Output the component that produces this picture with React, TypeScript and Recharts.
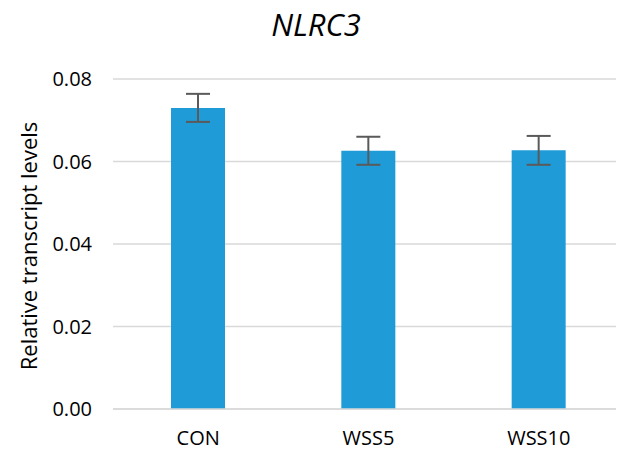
import React from 'react';
import { BarChart, Bar, XAxis, YAxis, CartesianGrid, ErrorBar } from 'recharts';

const groups = ['CON', 'WSS5', 'WSS10'];
const levels = [0.073, 0.0626, 0.0627];
const errors = [0.0034, 0.0034, 0.0035];
const yTicks = [0, 0.02, 0.04, 0.06, 0.08];

const data = groups.map((name, i) => ({ name, value: levels[i], err: errors[i] }));

const font = '"Open Sans", sans-serif';

const YLabel = () => (
  <text
    x={0}
    y={0}
    transform="translate(28, 246) rotate(-90)"
    textAnchor="middle"
    dominantBaseline="central"
    fontFamily={font}
    fontSize={22}
    fill="#000"
  >
    Relative transcript levels
  </text>
);

const App: React.FC = () => {
  return (
    <div style={{ position: 'relative', width: 624, height: 457, margin: -8, background: '#fff', overflow: 'hidden' }}>
      <div
        style={{
          position: 'absolute',
          top: 3,
          left: 0,
          width: 624,
          textAlign: 'center',
          fontFamily: font,
          fontStyle: 'italic',
          fontSize: 31,
          color: '#000',
          paddingLeft: 4,
        }}
      >
        NLRC3
      </div>
      <BarChart width={624} height={457} data={data} margin={{ top: 79, right: 0, bottom: 0, left: 0 }} barCategoryGap={0}>
        <CartesianGrid vertical={false} stroke="#d9d9d9" strokeWidth={1.5} />
        <XAxis
          dataKey="name"
          tickLine={false}
          axisLine={{ stroke: '#d9d9d9', strokeWidth: 1.5 }}
          tick={{ fill: '#000', fontFamily: font, fontSize: 20 }}
          tickMargin={16}
          height={48}
        />
        <YAxis
          domain={[0, 0.08]}
          ticks={yTicks}
          tickFormatter={(v: number) => v.toFixed(2)}
          axisLine={false}
          tickLine={false}
          tick={{ fill: '#000', fontFamily: font, fontSize: 20 }}
          tickMargin={15}
          width={113}
          label={<YLabel />}
        />
        <Bar dataKey="value" fill="#1f9bd7" barSize={54} isAnimationActive={false}>
          <ErrorBar dataKey="err" width={12} stroke="#5a5a5a" strokeWidth={2} isAnimationActive={false} />
        </Bar>
      </BarChart>
    </div>
  );
};

export default App;
